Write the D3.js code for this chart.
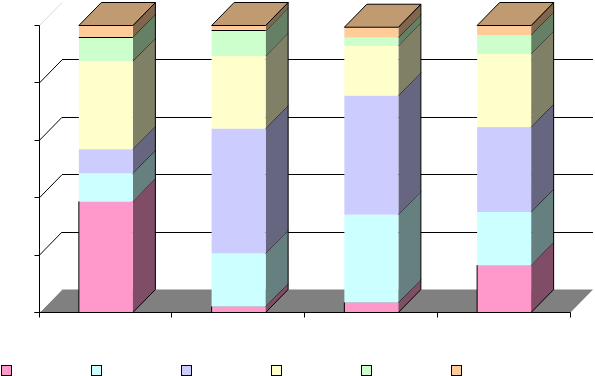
<!DOCTYPE html>
<html><head><meta charset="utf-8">
<script src="https://cdn.jsdelivr.net/npm/d3@7"></script>
<style>html,body{margin:0;padding:0;background:#fff}svg{display:block}</style>
</head><body><svg id="c" width="595" height="376"></svg>
<script>
const categories = ["A","B","C","D"];
const seriesNames = ["s1","s2","s3","s4","s5","s6"];
const s1 = [38.7, 2.1, 3.5, 16.5];
const s2 = [9.8, 18.5, 30.6, 18.5];
const s3 = [8.4, 43.5, 41.5, 29.6];
const s4 = [30.7, 25.3, 17.3, 25.5];
const s5 = [8.3, 8.7, 2.9, 6.6];
const s6 = [4.1, 1.9, 3.6, 3.3];
const seriesValues = [s1,s2,s3,s4,s5,s6];
const colors = ["#FF99CC","#CCFFFF","#CCCCFF","#FFFFCC","#CCFFCC","#FFCC99"];
const yTicks = [0,20,40,60,80,100];
const topColor = "#C09A70";
const ruledTop = [true,true,false,false];

const svg = d3.select("#c");
const DX = 22.5, DY = 23;
const y = d3.scaleLinear().domain([0,100]).range([312.5,25.5]);
const x = d3.scaleBand().domain(categories).range([39.5,570.5]).paddingInner(0.593).paddingOuter(0.2965);
const step = x.step();
const rows = categories.map((c,i)=>{const r={cat:c};seriesNames.forEach((s,j)=>r[s]=seriesValues[j][i]);return r;});
const stacked = d3.stack().keys(seriesNames)(rows);
const poly = p => p.map(q=>q.join(",")).join(" ");
const x0 = x.range()[0], x1 = x.range()[1], y0 = y(0);
const snap = v => Math.round(v-0.5)+0.5;
const hline = (a,b,yy,c="#000") => svg.append("line").attr("x1",a).attr("x2",b).attr("y1",snap(yy)).attr("y2",snap(yy)).attr("stroke",c);

// floor
svg.append("polygon").attr("fill","#808080")
  .attr("points",poly([[x0,y0],[x0+DX,y0-DY],[x1+DX,y0-DY],[x1,y0]]));
svg.append("line").attr("x1",x0+1).attr("y1",y0-1).attr("x2",x0+DX).attr("y2",y0-DY).attr("stroke","#fff").attr("stroke-width",1);

// gridlines and wall diagonals
yTicks.slice(1,-1).forEach(v=>{
  hline(x0+DX,x1+DX,y(v)-DY);
  svg.append("line").attr("x1",x0).attr("x2",x0+DX).attr("y1",y(v)).attr("y2",y(v)-DY).attr("stroke","#000");
});
svg.append("line").attr("x1",x0).attr("x2",x0+DX).attr("y1",y(100)).attr("y2",y(100)-DY).attr("stroke","#d8d8d8");

// axes
svg.append("line").attr("x1",x0).attr("x2",x0).attr("y1",y(0)).attr("y2",y(100)).attr("stroke","#000");
hline(x0-5,x1,y0);
yTicks.forEach(v=>hline(x0-5,x0,y(v)));
d3.range(categories.length+1).forEach(i=>{
  const tx=Math.round(x0+i*step)-0.5;
  svg.append("line").attr("x1",tx).attr("x2",tx).attr("y1",y0).attr("y2",y0+5).attr("stroke","#000");
});

// bars
const dark = c => {const k=d3.rgb(c);return d3.rgb(k.r/2,k.g/2,k.b/2).formatHex();};
categories.forEach((c,i)=>{
  const L=x(c), R=L+x.bandwidth();
  stacked.forEach((s,j)=>{
    const a=y(s[i][0]), b=y(s[i][1]);
    svg.append("polygon").attr("fill",dark(colors[j]))
      .attr("points",poly([[R,a],[R,b],[R+DX,b-DY],[R+DX,a-DY]]));
    svg.append("rect").attr("x",L).attr("y",b).attr("width",R-L).attr("height",a-b).attr("fill",colors[j]);
    svg.append("line").attr("x1",R).attr("y1",b).attr("x2",R+DX).attr("y2",b-DY).attr("stroke","#000");
  });
  const top=y(d3.sum(seriesValues,v=>v[i]));
  svg.append("polygon").attr("fill",topColor).attr("stroke","#000")
    .attr("points",poly([[L,top],[L+DX,top-DY],[R+DX,top-DY],[R,top]]));
  // edges
  svg.append("line").attr("x1",R+DX).attr("x2",R+DX).attr("y1",top-DY).attr("y2",y0-DY).attr("stroke","#000");
  svg.append("line").attr("x1",R).attr("y1",y0).attr("x2",R+DX).attr("y2",y0-DY).attr("stroke","#000");
  hline(L,R,y0);
  const b0=y(seriesValues[0][i]);
  svg.append("line").attr("x1",L).attr("x2",L).attr("y1",b0).attr("y2",y0).attr("stroke","#000");
  if (ruledTop[i]) {
    const t6=y(d3.sum(seriesValues.slice(0,5),v=>v[i]));
    hline(L,R,t6);
  }
});

// legend swatches
const lx = d3.scalePoint().domain(seriesNames).range([1.5,451.5]);
seriesNames.forEach((s,j)=>{
  svg.append("rect").attr("x",lx(s)).attr("y",365.5).attr("width",10).attr("height",10)
    .attr("fill",colors[j]).attr("stroke","#000");
});
</script></body></html>
